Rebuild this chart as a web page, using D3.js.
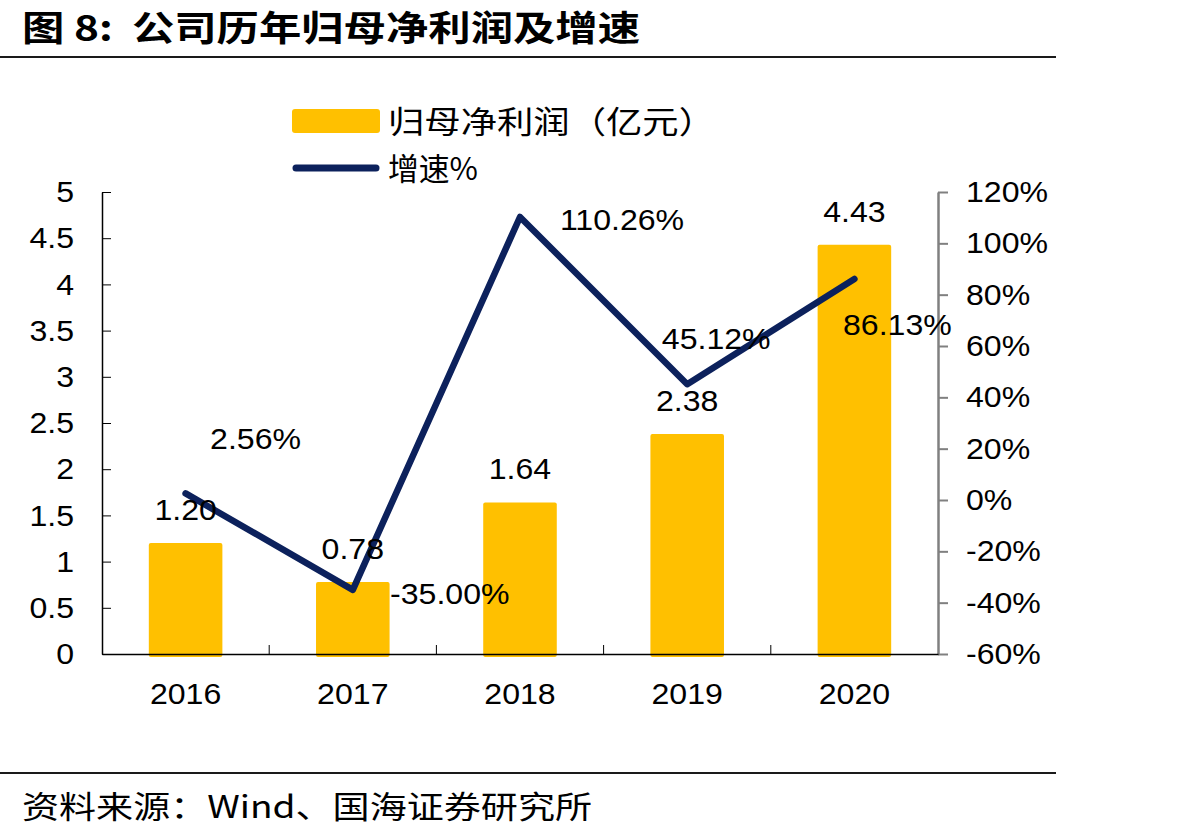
<!DOCTYPE html>
<html>
<head>
<meta charset="utf-8">
<script src="https://cdn.jsdelivr.net/npm/d3@7"></script>
<style>
  html, body { margin: 0; padding: 0; background: #fff; }
  svg { display: block; }
</style>
</head>
<body>
<div id="chart"></div>
<script>
// data
const years = ['2016', '2017', '2018', '2019', '2020']
const profit = [1.20, 0.78, 1.64, 2.38, 4.43]          // 归母净利润（亿元）
const growth = [2.56, -35.00, 110.26, 45.12, 86.13]   // 增速%
const leftTicks = [0, 0.5, 1, 1.5, 2, 2.5, 3, 3.5, 4, 4.5, 5]
const rightTicks = [-60, -40, -20, 0, 20, 40, 60, 80, 100, 120]

// where the growth labels sit relative to their point (layout only)
const growthLabelOffset = [[70, -44], [97, 14], [102, 13], [29, -35], [43, 56]]

const width = 1189, height = 840
const NUM_FONT = '"Liberation Sans", Arial, sans-serif'
const CJK_FONT = '"Noto Sans CJK SC", "Noto Sans", sans-serif'
const SX = 1.07 // the source is a bit stretched sideways

const svg = d3.select('#chart').append('svg').attr('width', width).attr('height', height)
svg.append('rect').attr('width', width).attr('height', height).attr('fill', '#fff')

function widen (sel) {
    sel.each(function () {
        const t = d3.select(this)
        const x = +(t.attr('x') || 0)
        const y = +(t.attr('y') || 0)
        t.attr('x', null).attr('y', null).
            attr('transform', `translate(${x},${y}) scale(${SX},1)`)
    })
}

// title + rules
svg.append('text').attr('x', 22).attr('y', 41).
    attr('font-family', CJK_FONT).attr('font-weight', 'bold').attr('font-size', 35).
    attr('style', 'white-space:pre').
    attr('textLength', 618).attr('lengthAdjust', 'spacingAndGlyphs').
    text('图 8:  公司历年归母净利润及增速')
svg.append('line').attr('x1', 0).attr('x2', 1056).attr('y1', 57).attr('y2', 57).
    attr('stroke', '#1a1a1a').attr('stroke-width', 2)
svg.append('line').attr('x1', 0).attr('x2', 1056).attr('y1', 773).attr('y2', 773).
    attr('stroke', '#1a1a1a').attr('stroke-width', 2)
svg.append('text').attr('x', 22).attr('y', 818).
    attr('font-family', CJK_FONT).attr('font-size', 31).
    attr('textLength', 570).attr('lengthAdjust', 'spacingAndGlyphs').
    text('资料来源：Wind、国海证券研究所')

// legend
const lg = svg.append('g')
lg.append('rect').attr('x', 292).attr('y', 109).attr('width', 88).attr('height', 24).
    attr('rx', 3).attr('fill', '#FFC000')
lg.append('text').attr('x', 388).attr('y', 133).
    attr('font-family', CJK_FONT).attr('font-size', 31).
    attr('textLength', 327).attr('lengthAdjust', 'spacingAndGlyphs').
    text('归母净利润（亿元）')
lg.append('line').attr('x1', 296).attr('x2', 376).attr('y1', 168).attr('y2', 168).
    attr('stroke', '#0c215c').attr('stroke-width', 7).attr('stroke-linecap', 'round')
lg.append('text').attr('x', 388).attr('y', 180).
    attr('font-family', CJK_FONT).attr('font-size', 31).
    attr('textLength', 90).attr('lengthAdjust', 'spacingAndGlyphs').
    text('增速%')

// scales
const x0 = 102, x1 = 938, yTop = 192, yBot = 654
const x = d3.scaleBand().domain(years).range([x0, x1]).paddingInner(0.56).paddingOuter(0.28)
const xc = d => x(d) + x.bandwidth() / 2
const yL = d3.scaleLinear().domain([0, 5]).range([yBot, yTop])
const yR = d3.scaleLinear().domain([-60, 120]).range([yBot, yTop])

// bars
svg.append('g').selectAll('rect').
    data(profit).
    enter().
    append('rect').
    attr('x', (d, i) => x(years[i])).
    attr('width', x.bandwidth()).
    attr('y', d => yL(d)).
    attr('height', d => yL(0) - yL(d) + 3).
    attr('rx', 2).
    attr('fill', '#FFC000')

// left axis
const gl = svg.append('g').attr('transform', `translate(${x0},0)`).
    call(d3.axisLeft(yL).tickValues(leftTicks).tickSize(-9).tickSizeOuter(0).tickPadding(28).
        tickFormat(d3.format('')))
gl.select('.domain').attr('stroke', '#000').attr('stroke-width', 1.5)
gl.selectAll('.tick line').attr('stroke', '#000')
gl.selectAll('.tick text').attr('font-family', NUM_FONT).attr('font-size', 30).attr('fill', '#000').call(widen)

// right axis
const gr = svg.append('g').attr('transform', `translate(${x1},0)`).
    call(d3.axisRight(yR).tickValues(rightTicks).tickSize(10).tickSizeOuter(0).tickPadding(18).
        tickFormat(d => d + '%'))
gr.select('.domain').attr('stroke', '#808080').attr('stroke-width', 2.5)
gr.selectAll('.tick line').attr('stroke', '#808080').attr('stroke-width', 2)
gr.selectAll('.tick text').attr('font-family', NUM_FONT).attr('font-size', 30).attr('fill', '#000').call(widen)

// bottom axis
const gb = svg.append('g').attr('transform', `translate(0,${yBot})`).
    call(d3.axisBottom(x).tickSize(0).tickPadding(29))
gb.select('.domain').attr('stroke', '#000').attr('stroke-width', 1.5)
gb.selectAll('.tick text').attr('font-family', NUM_FONT).attr('font-size', 30).attr('fill', '#000').call(widen)
gb.selectAll('.sep').
    data(years.slice(1)).
    enter().
    append('line').
    attr('x1', d => x(d) - x.step() * x.paddingInner() / 2).
    attr('x2', d => x(d) - x.step() * x.paddingInner() / 2).
    attr('y1', 0).attr('y2', -9).
    attr('stroke', '#000')

// growth line
const line = d3.line().x((d, i) => xc(years[i])).y(d => yR(d))
svg.append('path').attr('d', line(growth)).
    attr('fill', 'none').attr('stroke', '#0c215c').attr('stroke-width', 6.5).
    attr('stroke-linejoin', 'round').attr('stroke-linecap', 'round')

// bar labels
svg.append('g').selectAll('text').
    data(profit).
    enter().
    append('text').
    attr('x', (d, i) => xc(years[i])).
    attr('y', d => yL(d) - 23).
    attr('text-anchor', 'middle').
    attr('font-family', NUM_FONT).attr('font-size', 30).
    text(d => d.toFixed(2)).
    call(widen)

// growth labels
svg.append('g').selectAll('text').
    data(growth).
    enter().
    append('text').
    attr('x', (d, i) => xc(years[i]) + growthLabelOffset[i][0]).
    attr('y', (d, i) => yR(d) + growthLabelOffset[i][1]).
    attr('text-anchor', 'middle').
    attr('font-family', NUM_FONT).attr('font-size', 30).
    text(d => d.toFixed(2) + '%').
    call(widen)
</script>
</body>
</html>
